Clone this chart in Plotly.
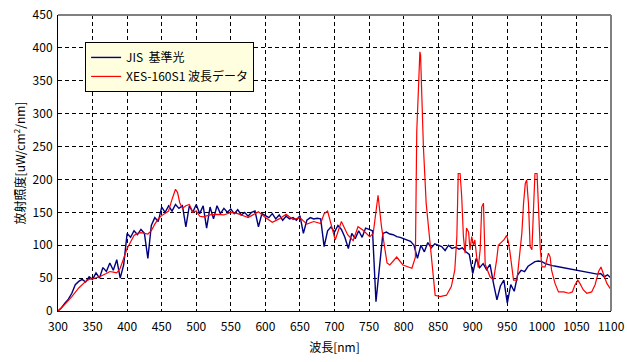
import plotly.graph_objects as go

# JIS reference light (5 nm steps, 300-1100 nm)
jis_wl = list(range(300, 1101, 5))
jis_val = [
    0, 5, 12, 18, 27, 40, 45, 48, 44, 52, 48, 58, 50, 66, 60, 73, 62, 78, 50, 70,
    118, 112, 122, 116, 124, 118, 80, 130, 142, 136, 158, 150, 160, 152, 162, 156, 160, 128, 160, 150,
    162, 148, 160, 126, 158, 140, 160, 148, 156, 150, 155, 148, 154, 146, 150, 144, 150, 152, 128, 148,
    145, 142, 148, 140, 146, 138, 144, 140, 142, 138, 145, 118, 138, 142, 140, 141, 140, 98, 122, 128,
    120, 130, 124, 112, 95, 118, 110, 122, 112, 126, 124, 122, 14, 70, 118, 120, 117, 116, 113, 112,
    110, 108, 106, 100, 80, 100, 90, 104, 96, 102, 100, 98, 92, 100, 95, 97, 94, 96, 90, 86,
    57, 80, 66, 72, 63, 71, 42, 17, 38, 47, 12, 40, 30, 55, 62, 60, 68, 72, 75, 76,
    75, 72, 70, 69, 68, 67, 67, 66, 64, 63, 62, 61, 60, 59, 58, 57, 56, 57, 52, 55, 50,
]

# XES-160S1 spectrum
xes_wl = [
    300, 310, 320, 330, 340, 345, 350, 360, 370, 375, 380, 385, 390, 395, 400, 405, 410, 415, 420, 430,
    435, 440, 445, 450, 455, 460, 465, 470, 473, 476, 480, 485, 490, 495, 500, 505, 510, 520, 530, 540,
    550, 560, 570, 575, 580, 590, 600, 610, 620, 630, 640, 650, 660, 670, 680, 685, 690, 701, 710, 719,
    727, 734, 741, 751, 756, 763, 768, 776, 780, 790, 799, 812, 817, 819, 821, 822.5, 823.5, 824.5, 826, 827.7,
    828.6, 832.6, 840.7, 845.6, 852.7, 862, 869, 874, 877, 879, 881.7, 884, 886.5, 889, 891, 894, 896, 898.5, 901, 903,
    905.6, 908, 910.7, 913, 915.5, 918, 925, 930, 934.6, 937, 942, 945, 949, 951.6, 954, 959, 964, 966, 968.5, 971,
    973.5, 976, 978, 980.6, 983, 985.6, 988, 990, 993, 995, 997.5, 1000, 1004.6, 1009.5, 1012, 1014, 1019, 1024, 1031.6, 1039,
    1044, 1048, 1052, 1055, 1060, 1065, 1072, 1077, 1082, 1085.5, 1089, 1094, 1099, 1100,
]
xes_val = [
    0, 10, 22, 35, 45, 48, 49, 52, 57, 60, 59, 58, 65, 80, 95, 105, 115, 118, 119, 117,
    122, 132, 140, 145, 148, 152, 170, 185, 180, 165, 156, 160, 162, 150, 152, 144, 143, 146, 147, 146,
    150, 148, 144, 142, 145, 151, 142, 135, 140, 147, 139, 142, 132, 136, 133, 148, 152, 108, 136, 116,
    107, 128, 123, 113, 118, 176, 128, 73, 70, 82, 70, 65, 82, 273, 326, 389, 394, 389, 336, 293,
    250, 164, 83, 24, 22, 24, 37, 62, 113, 209, 209, 174, 113, 88, 126, 120, 93, 113, 100, 108,
    83, 66, 93, 158, 164, 71, 52, 47, 78, 100, 105, 108, 115, 105, 88, 47, 47, 65, 88, 118,
    164, 194, 199, 164, 98, 93, 158, 209, 209, 158, 98, 67, 67, 88, 82, 62, 42, 29, 29, 27,
    29, 40, 47, 42, 32, 27, 29, 40, 60, 67, 57, 42, 34, 33,
]

x_ticks = list(range(300, 1101, 50))
y_ticks = list(range(0, 451, 50))

font_fam = "MS UI Gothic, Noto Sans CJK JP, sans-serif"

fig = go.Figure()
fig.add_trace(go.Scatter(x=jis_wl, y=jis_val, mode="lines", name="JIS  基準光",
                         line=dict(color="#000080", width=1.4)))
fig.add_trace(go.Scatter(x=xes_wl, y=xes_val, mode="lines", name="XES-160S1 波長データ",
                         line=dict(color="#FF0000", width=1.2)))

grid = dict(showgrid=True, gridcolor="#000000", gridwidth=1, griddash="4px,3px",
            zeroline=False, showline=True, linecolor="#000000", linewidth=1,
            automargin=False,
            tickfont=dict(family=font_fam, size=12, color="#000000"))

fig.update_layout(
    width=627, height=362,
    margin=dict(l=58, r=16, t=15, b=51),
    paper_bgcolor="#FFFFFF", plot_bgcolor="#FFFFFF",
    font=dict(family=font_fam, size=12, color="#000000"),
    showlegend=True,
    legend=dict(x=0.049, y=0.909, xanchor="left", yanchor="top",
                bgcolor="#FFFFE0", bordercolor="#000000", borderwidth=1,
                font=dict(family=font_fam, size=12, color="#000000"),
                tracegroupgap=0, itemwidth=30),
    xaxis=dict(range=[300, 1100], tickvals=x_ticks, ticktext=[str(v) for v in x_ticks],
               ticks="outside", ticklen=5, tickcolor="rgba(0,0,0,0)",
               title=dict(text="波長[nm]", font=dict(family=font_fam, size=12), standoff=10),
               **grid),
    yaxis=dict(range=[0, 450], tickvals=y_ticks, ticktext=[str(v) for v in y_ticks],
               ticks="outside", ticklen=2, tickcolor="rgba(0,0,0,0)",
               title=dict(text="放射照度[uW/cm<sup>2</sup>/nm]", font=dict(family=font_fam, size=12), standoff=4),
               **grid),
    shapes=[
        dict(type="line", xref="paper", yref="paper", x0=0, x1=1, y0=1, y1=1,
             line=dict(color="#808080", width=2)),
        dict(type="line", xref="paper", yref="paper", x0=1, x1=1, y0=0, y1=1,
             line=dict(color="#808080", width=2)),
    ],
)

fig.write_html("out.html", config={"displayModeBar": False},
               post_script="document.body.style.margin='0';document.body.style.overflow='hidden';")
